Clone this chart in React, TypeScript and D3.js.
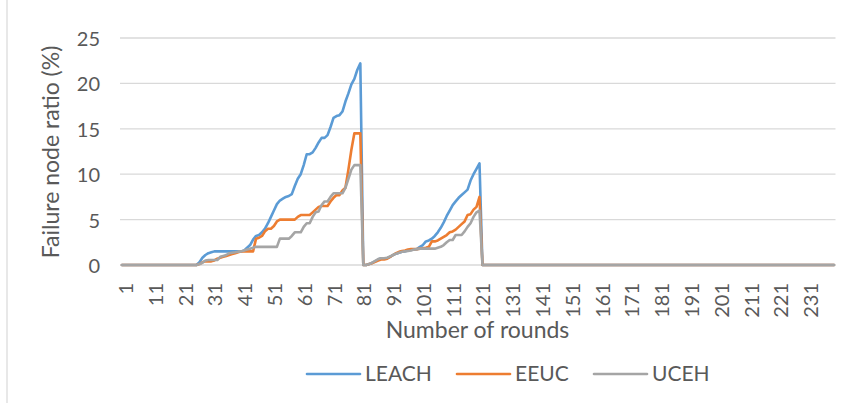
import React from "react";
import * as d3 from "d3";

const rounds: number[] = d3.range(1, 241);

const xTickLabels: string[] = [
  "1", "11", "21", "31", "41", "51", "61", "71", "81", "91", "101", "111",
  "121", "131", "141", "151", "161", "171", "181", "191", "201", "211", "221", "231",
];

const yTicks: number[] = [0, 5, 10, 15, 20, 25];

const seriesNames: string[] = ["LEACH", "EEUC", "UCEH"];
const seriesColors: string[] = ["#5b9bd5", "#ed7d31", "#a5a5a5"];

// rounds 1..240
const leach: number[] = [
  0, 0, 0, 0, 0, 0, 0, 0, 0, 0,
  0, 0, 0, 0, 0, 0, 0, 0, 0, 0,
  0, 0, 0, 0, 0, 0, 0.3, 0.8, 1.1, 1.3,
  1.4, 1.5, 1.5, 1.5, 1.5, 1.5, 1.5, 1.5, 1.5, 1.5,
  1.5, 1.6, 1.9, 2.2, 2.8, 3.2, 3.3, 3.6, 4.0, 4.6,
  5.3, 6.0, 6.7, 7.1, 7.3, 7.5, 7.6, 7.8, 8.7, 9.5,
  10.0, 11.0, 12.2, 12.2, 12.4, 12.9, 13.5, 14.0, 14.0, 14.3,
  15.2, 16.2, 16.4, 16.5, 16.9, 18.0, 18.9, 19.9, 20.5, 21.5,
  22.2, 0, 0, 0.1, 0.25, 0.4, 0.6, 0.74, 0.74, 0.74,
  0.9, 1.1, 1.25, 1.35, 1.45, 1.5, 1.6, 1.65, 1.7, 1.75,
  2.0, 2.2, 2.6, 2.7, 2.9, 3.2, 3.6, 4.1, 4.7, 5.4,
  6.0, 6.6, 7.0, 7.4, 7.7, 8.0, 8.3, 9.3, 10.0, 10.6,
  11.2, 0, 0, 0, 0, 0, 0, 0, 0, 0,
  0, 0, 0, 0, 0, 0, 0, 0, 0, 0,
  0, 0, 0, 0, 0, 0, 0, 0, 0, 0,
  0, 0, 0, 0, 0, 0, 0, 0, 0, 0,
  0, 0, 0, 0, 0, 0, 0, 0, 0, 0,
  0, 0, 0, 0, 0, 0, 0, 0, 0, 0,
  0, 0, 0, 0, 0, 0, 0, 0, 0, 0,
  0, 0, 0, 0, 0, 0, 0, 0, 0, 0,
  0, 0, 0, 0, 0, 0, 0, 0, 0, 0,
  0, 0, 0, 0, 0, 0, 0, 0, 0, 0,
  0, 0, 0, 0, 0, 0, 0, 0, 0, 0,
  0, 0, 0, 0, 0, 0, 0, 0, 0, 0,
];

const eeuc: number[] = [
  0, 0, 0, 0, 0, 0, 0, 0, 0, 0,
  0, 0, 0, 0, 0, 0, 0, 0, 0, 0,
  0, 0, 0, 0, 0, 0, 0.1, 0.3, 0.4, 0.4,
  0.4, 0.5, 0.7, 0.8, 0.9, 1.0, 1.1, 1.2, 1.3, 1.4,
  1.5, 1.5, 1.5, 1.5, 1.5, 2.9, 3.0, 3.2, 3.7, 4.0,
  4.0, 4.3, 4.8, 5.0, 5.0, 5.0, 5.0, 5.0, 5.0, 5.3,
  5.5, 5.5, 5.5, 5.5, 5.8, 6.1, 6.4, 6.5, 6.5, 6.5,
  7.0, 7.4, 7.7, 7.7, 8.2, 8.5, 10.5, 12.7, 14.5, 14.5,
  14.5, 0, 0, 0.1, 0.2, 0.35, 0.5, 0.6, 0.6, 0.7,
  0.9, 1.1, 1.3, 1.45, 1.55, 1.6, 1.7, 1.75, 1.75, 1.75,
  1.8, 1.85, 1.9, 2.0, 2.6, 2.6, 2.7, 2.9, 3.1, 3.3,
  3.6, 3.7, 3.9, 4.2, 4.5, 4.8, 5.5, 5.6, 6.1, 6.4,
  7.5, 0, 0, 0, 0, 0, 0, 0, 0, 0,
  0, 0, 0, 0, 0, 0, 0, 0, 0, 0,
  0, 0, 0, 0, 0, 0, 0, 0, 0, 0,
  0, 0, 0, 0, 0, 0, 0, 0, 0, 0,
  0, 0, 0, 0, 0, 0, 0, 0, 0, 0,
  0, 0, 0, 0, 0, 0, 0, 0, 0, 0,
  0, 0, 0, 0, 0, 0, 0, 0, 0, 0,
  0, 0, 0, 0, 0, 0, 0, 0, 0, 0,
  0, 0, 0, 0, 0, 0, 0, 0, 0, 0,
  0, 0, 0, 0, 0, 0, 0, 0, 0, 0,
  0, 0, 0, 0, 0, 0, 0, 0, 0, 0,
  0, 0, 0, 0, 0, 0, 0, 0, 0, 0,
];

const uceh: number[] = [
  0, 0, 0, 0, 0, 0, 0, 0, 0, 0,
  0, 0, 0, 0, 0, 0, 0, 0, 0, 0,
  0, 0, 0, 0, 0, 0, 0.1, 0.25, 0.5, 0.55,
  0.55, 0.55, 0.55, 0.9, 1.0, 1.1, 1.3, 1.35, 1.4, 1.47,
  1.5, 1.6, 1.7, 1.8, 1.9, 2.0, 2.0, 2.0, 2.0, 2.0,
  2.0, 2.0, 2.0, 2.9, 2.9, 2.9, 2.9, 3.2, 3.6, 3.6,
  3.6, 4.2, 4.6, 4.6, 5.3, 5.8, 5.9, 6.6, 7.0, 7.0,
  7.5, 7.9, 7.9, 7.9, 7.9, 8.5, 9.5, 10.5, 11.0, 11.0,
  11.0, 0, 0, 0.1, 0.25, 0.45, 0.65, 0.74, 0.74, 0.8,
  0.95, 1.1, 1.25, 1.35, 1.45, 1.5, 1.55, 1.6, 1.7, 1.75,
  1.8, 1.8, 1.8, 1.8, 1.8, 1.8, 1.9, 2.0, 2.2, 2.5,
  2.75, 2.75, 3.3, 3.3, 3.3, 3.7, 4.2, 4.6, 5.3, 5.8,
  6.0, 0, 0, 0, 0, 0, 0, 0, 0, 0,
  0, 0, 0, 0, 0, 0, 0, 0, 0, 0,
  0, 0, 0, 0, 0, 0, 0, 0, 0, 0,
  0, 0, 0, 0, 0, 0, 0, 0, 0, 0,
  0, 0, 0, 0, 0, 0, 0, 0, 0, 0,
  0, 0, 0, 0, 0, 0, 0, 0, 0, 0,
  0, 0, 0, 0, 0, 0, 0, 0, 0, 0,
  0, 0, 0, 0, 0, 0, 0, 0, 0, 0,
  0, 0, 0, 0, 0, 0, 0, 0, 0, 0,
  0, 0, 0, 0, 0, 0, 0, 0, 0, 0,
  0, 0, 0, 0, 0, 0, 0, 0, 0, 0,
  0, 0, 0, 0, 0, 0, 0, 0, 0, 0,
];

const yTitle = "Failure node ratio (%)";
const xTitle = "Number of rounds";

const W = 850;
const H = 403;
const FONT = "Lato, 'Open Sans', 'Noto Sans', sans-serif";
const TEXT = "#595959";
const GRID = "#d9d9d9";

export default function App() {
  const x = d3
    .scaleBand<number>()
    .domain(rounds)
    .range([120.5, 835.5])
    .padding(0);
  const cx = (r: number) => (x(r) as number) + x.bandwidth() / 2;
  const y = d3.scaleLinear().domain([0, 25]).range([265, 38]);

  const allSeries = [leach, eeuc, uceh];
  const line = d3
    .line<number>()
    .x((_, i) => cx(rounds[i]))
    .y((v) => y(v));

  const legendX = [307, 457, 594];

  return (
    <svg
      width={W}
      height={H}
      style={{ position: "absolute", left: 0, top: 0, background: "#fff" }}
      fontFamily={FONT}
    >
      <rect x={0} y={0} width={W} height={H} fill="#fff" />
      <line x1={7} x2={7} y1={0} y2={H} stroke={GRID} strokeWidth={1.2} />
      {yTicks.map((t) => (
        <g key={t}>
          <line
            x1={120}
            x2={835.5}
            y1={y(t)}
            y2={y(t)}
            stroke={GRID}
            strokeWidth={1.3}
          />
          <text
            x={100}
            y={y(t)}
            textAnchor="end"
            dominantBaseline="central"
            fontSize={20}
            fill={TEXT}
          >
            {t}
          </text>
        </g>
      ))}
      {xTickLabels.map((lab) => {
        const r = +lab;
        const px = cx(r) + 3;
        return (
          <text
            key={lab}
            transform={`translate(${px},283) rotate(-90)`}
            textAnchor="end"
            dominantBaseline="central"
            fontSize={20}
            fill={TEXT}
          >
            {lab}
          </text>
        );
      })}
      {allSeries.map((s, k) => (
        <path
          key={seriesNames[k]}
          d={line(s) || ""}
          fill="none"
          stroke={seriesColors[k]}
          strokeWidth={2.6}
          strokeLinejoin="round"
          strokeLinecap="round"
        />
      ))}
      <text
        transform={`translate(50,152) rotate(-90)`}
        textAnchor="middle"
        dominantBaseline="central"
        fontSize={23}
        fill={TEXT}
      >
        {yTitle}
      </text>
      <text x={477.5} y={338} textAnchor="middle" fontSize={23} fill={TEXT}>
        {xTitle}
      </text>
      {seriesNames.map((n, k) => (
        <g key={n}>
          <line
            x1={legendX[k]}
            x2={legendX[k] + 53}
            y1={374}
            y2={374}
            stroke={seriesColors[k]}
            strokeWidth={2.6}
            strokeLinecap="round"
          />
          <text x={legendX[k] + 58} y={381} fontSize={21} fill={TEXT}>
            {n}
          </text>
        </g>
      ))}
    </svg>
  );
}
